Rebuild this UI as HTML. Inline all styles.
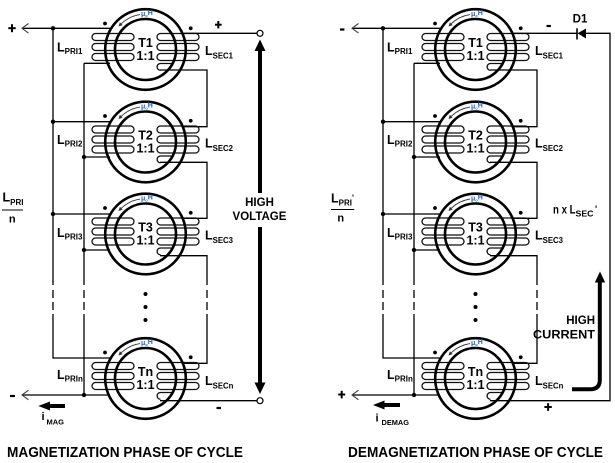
<!DOCTYPE html>
<html><head><meta charset="utf-8">
<style>
html,body{margin:0;padding:0;background:#fff;}
svg{display:block;}
text{font-family:"Liberation Sans",Arial,sans-serif;font-weight:bold;fill:#000;}
</style></head>
<body>
<svg width="615" height="463" viewBox="0 0 615 463" xmlns="http://www.w3.org/2000/svg">
<defs>
<g id="tx">
  <g fill="none" stroke="#111" stroke-width="1.3">
    <rect x="-53.5" y="-16" width="42" height="7" rx="3.5"/>
    <rect x="-53.5" y="-6" width="42" height="7" rx="3.5"/>
    <rect x="-53.5" y="4" width="42" height="7" rx="3.5"/>
    <rect x="11.5" y="-16" width="42" height="7" rx="3.5"/>
    <rect x="11.5" y="-6" width="42" height="7" rx="3.5"/>
    <rect x="11.5" y="4" width="42" height="7" rx="3.5"/>
    <path d="M28 14H15A3.4 3.4 0 0 0 15 20.8"/>
  </g>
  <circle r="40.3" fill="none" stroke="#000" stroke-width="2.6"/>
  <circle r="30.5" fill="none" stroke="#000" stroke-width="2.6"/>
  <circle cx="-40.5" cy="-26" r="1.9" fill="#000"/>
  <circle cx="45.2" cy="-21.2" r="1.9" fill="#000"/>
  <path d="M-5.5 -34.9A35.3 35.3 0 0 0 -24.2 -25.8" fill="none" stroke="#333" stroke-width="0.9"/>
  <polygon points="-27,-23 -22.8,-24.4 -25.6,-27.2" fill="#333"/>
</g>
<g id="common">
  <g fill="none" stroke="#000" stroke-width="1.3">
    <path d="M22 28.3H112 M53 28.3V285 M53 322V358H111 M53 121.7H111 M53 214H111 M22 395H110 M84 63.3H110 M84 63.3V285 M84 322V395 M84 157H110 M84 250H110 M160 70H207V126.7H183 M160 162.3H207V218.3H183 M160 255.7H207V285 M207 322V363.3H183"/>
    <path d="M53 290V322 M84 290V322 M207 290V322" stroke-dasharray="8 4"/>
  </g>
  <g fill="none" stroke="#444" stroke-width="1.1">
    <path d="M28.5 23.5L22 28.3L28.5 33.1"/>
    <path d="M28.5 390.2L22 395L28.5 399.8"/>
  </g>
  <use href="#tx" x="145.5" y="49.5"/>
  <use href="#tx" x="145.5" y="142"/>
  <use href="#tx" x="145.5" y="234"/>
  <use href="#tx" x="145.5" y="378.5"/>
  <g fill="#000">
    <circle cx="53" cy="28.3" r="2.2"/>
    <circle cx="53" cy="121.7" r="2.2"/>
    <circle cx="53" cy="214" r="2.2"/>
    <circle cx="84" cy="157" r="2.2"/>
    <circle cx="84" cy="250" r="2.2"/>
    <circle cx="84" cy="395" r="2.2"/>
    <circle cx="145.5" cy="294" r="2"/>
    <circle cx="145.5" cy="307" r="2"/>
    <circle cx="145.5" cy="320" r="2"/>
  </g>
</g>
</defs>

<use href="#common"/>
<use href="#common" x="330"/>

<!-- LEFT specifics -->
<g fill="none" stroke="#000" stroke-width="1.3">
  <path d="M183 33.3H257 M160 400.7H257"/>
</g>
<circle cx="260" cy="33.3" r="3" fill="#fff" stroke="#000" stroke-width="1.2"/>
<circle cx="260" cy="400.7" r="3" fill="#fff" stroke="#000" stroke-width="1.2"/>
<path d="M260 50V193 M260 227V383" stroke="#000" stroke-width="4"/>
<polygon points="260,39.5 254.5,51 265.5,51" fill="#000"/>
<polygon points="260,394 254.5,382.5 265.5,382.5" fill="#000"/>
<g fill="#000">
  <rect x="8.3" y="27.2" width="7.4" height="2"/><rect x="11" y="24.2" width="2" height="8"/>
  <rect x="10" y="394.9" width="5" height="2.2"/>
  <rect x="215" y="23.7" width="6.7" height="2"/><rect x="217.3" y="21" width="2" height="7.4"/>
  <rect x="216.5" y="406.9" width="4.5" height="2.2"/>
</g>
<polygon points="38.3,406 50,401.5 50,410.5" fill="#000"/>
<rect x="49" y="404" width="16" height="4" fill="#000"/>

<!-- RIGHT specifics -->
<g fill="none" stroke="#000" stroke-width="1.3">
  <path d="M513 33.3H577 M586 33.3H610V400.7H490"/>
  <path d="M577 28.3V39.5" stroke-width="1.6"/>
</g>
<polygon points="577.5,33.3 586,28.5 586,38.5" fill="#000"/>
<path d="M572 389.3H590Q599.8 389.3 599.8 380V281" fill="none" stroke="#000" stroke-width="4"/>
<polygon points="600,271.5 594.8,282.5 605.2,282.5" fill="#000"/>
<g fill="#000">
  <rect x="340" y="28.4" width="4.4" height="2.2"/>
  <rect x="338.2" y="393.5" width="7" height="2"/><rect x="340.7" y="390.8" width="2" height="7.6"/>
  <rect x="546.5" y="24.9" width="4.4" height="2.2"/>
  <rect x="544.4" y="406" width="7.4" height="2"/><rect x="547.1" y="403.2" width="2" height="7.6"/>
</g>
<polygon points="373,405 384.5,400.5 384.5,409.5" fill="#000"/>
<rect x="383.5" y="403" width="16.5" height="4" fill="#000"/>

<!-- transformer texts -->
<g font-size="12.5" text-anchor="middle">
  <text x="145.5" y="47">T1</text><text x="145.5" y="60">1:1</text>
  <text x="145.5" y="139.5">T2</text><text x="145.5" y="152.5">1:1</text>
  <text x="145.5" y="231.5">T3</text><text x="145.5" y="244.5">1:1</text>
  <text x="145.5" y="376">Tn</text><text x="145.5" y="389">1:1</text>
  <text x="475.5" y="47">T1</text><text x="475.5" y="60">1:1</text>
  <text x="475.5" y="139.5">T2</text><text x="475.5" y="152.5">1:1</text>
  <text x="475.5" y="231.5">T3</text><text x="475.5" y="244.5">1:1</text>
  <text x="475.5" y="376">Tn</text><text x="475.5" y="389">1:1</text>
</g>
<g font-size="7">
  <text x="141" y="16" style="fill:#1f63c6">μ<tspan font-size="4" dy="1" style="fill:#1f63c6">o</tspan><tspan dy="-2" style="fill:#1f63c6">H</tspan></text>
  <text x="141" y="108.5" style="fill:#1f63c6">μ<tspan font-size="4" dy="1" style="fill:#1f63c6">o</tspan><tspan dy="-2" style="fill:#1f63c6">H</tspan></text>
  <text x="141" y="200.5" style="fill:#1f63c6">μ<tspan font-size="4" dy="1" style="fill:#1f63c6">o</tspan><tspan dy="-2" style="fill:#1f63c6">H</tspan></text>
  <text x="141" y="345" style="fill:#1f63c6">μ<tspan font-size="4" dy="1" style="fill:#1f63c6">o</tspan><tspan dy="-2" style="fill:#1f63c6">H</tspan></text>
  <text x="471" y="16" style="fill:#1f63c6">μ<tspan font-size="4" dy="1" style="fill:#1f63c6">o</tspan><tspan dy="-2" style="fill:#1f63c6">H</tspan></text>
  <text x="471" y="108.5" style="fill:#1f63c6">μ<tspan font-size="4" dy="1" style="fill:#1f63c6">o</tspan><tspan dy="-2" style="fill:#1f63c6">H</tspan></text>
  <text x="471" y="200.5" style="fill:#1f63c6">μ<tspan font-size="4" dy="1" style="fill:#1f63c6">o</tspan><tspan dy="-2" style="fill:#1f63c6">H</tspan></text>
  <text x="471" y="345" style="fill:#1f63c6">μ<tspan font-size="4" dy="1" style="fill:#1f63c6">o</tspan><tspan dy="-2" style="fill:#1f63c6">H</tspan></text>
</g>

<!-- coil labels -->
<g font-size="12.5">
  <text x="57" y="51.7">L<tspan dy="2.5" font-size="8">PRI1</tspan></text>
  <text x="57" y="144.2">L<tspan dy="2.5" font-size="8">PRI2</tspan></text>
  <text x="57" y="236.8">L<tspan dy="2.5" font-size="8">PRI3</tspan></text>
  <text x="57" y="379">L<tspan dy="2.5" font-size="8">PRIn</tspan></text>
  <text x="205" y="55">L<tspan dy="3.3" font-size="7.8">SEC1</tspan></text>
  <text x="205" y="147.5">L<tspan dy="3.3" font-size="7.8">SEC2</tspan></text>
  <text x="205" y="239.5">L<tspan dy="3.3" font-size="7.8">SEC3</tspan></text>
  <text x="205" y="385">L<tspan dy="3.3" font-size="7.8">SECn</tspan></text>
  <text x="387" y="51.7">L<tspan dy="2.5" font-size="8">PRI1</tspan></text>
  <text x="387" y="144.2">L<tspan dy="2.5" font-size="8">PRI2</tspan></text>
  <text x="387" y="236.8">L<tspan dy="2.5" font-size="8">PRI3</tspan></text>
  <text x="387" y="379">L<tspan dy="2.5" font-size="8">PRIn</tspan></text>
  <text x="535" y="55">L<tspan dy="3.3" font-size="7.8">SEC1</tspan></text>
  <text x="535" y="147.5">L<tspan dy="3.3" font-size="7.8">SEC2</tspan></text>
  <text x="535" y="239.5">L<tspan dy="3.3" font-size="7.8">SEC3</tspan></text>
  <text x="535" y="385">L<tspan dy="3.3" font-size="7.8">SECn</tspan></text>
</g>

<!-- fraction labels -->
<text x="2.5" y="201.7" font-size="12.5">L<tspan dy="3.3" font-size="8">PRI</tspan></text>
<path d="M2 210H23" stroke="#000" stroke-width="1.1"/>
<text x="12.2" y="222.5" font-size="11" text-anchor="middle">n</text>
<text x="331" y="202.3" font-size="12.5">L<tspan dy="3.4" font-size="8">PRI</tspan><tspan dy="-5" font-size="8">'</tspan></text>
<path d="M331 209.5H354.3" stroke="#000" stroke-width="1.1"/>
<text x="340.8" y="221.7" font-size="11" text-anchor="middle">n</text>

<!-- other labels -->
<g font-size="11.5" text-anchor="middle">
  <text x="259.5" y="206">HIGH</text>
  <text x="259.5" y="220">VOLTAGE</text>
  <text x="580" y="22.7">D1</text>
</g>
<text x="595" y="324" font-size="11.5" text-anchor="end">HIGH</text>
<text x="533" y="338.3" font-size="11.5" textLength="62" lengthAdjust="spacingAndGlyphs">CURRENT</text>
<text x="553" y="213.3" font-size="12" textLength="22.5" lengthAdjust="spacingAndGlyphs">n x L</text>
<text x="575.5" y="216.7" font-size="8.2" textLength="18" lengthAdjust="spacingAndGlyphs">SEC</text>
<text x="595" y="212" font-size="9">'</text>

<text x="41.5" y="420" font-size="11">i</text>
<text x="46.5" y="424.5" font-size="7.5" textLength="17.5" lengthAdjust="spacingAndGlyphs">MAG</text>
<text x="375.5" y="421.5" font-size="11">i</text>
<text x="381.5" y="425" font-size="7.5" textLength="27.5" lengthAdjust="spacingAndGlyphs">DEMAG</text>

<text x="7" y="457" font-size="14.5" textLength="236" lengthAdjust="spacingAndGlyphs">MAGNETIZATION PHASE OF CYCLE</text>
<text x="348" y="457" font-size="14.5" textLength="255" lengthAdjust="spacingAndGlyphs">DEMAGNETIZATION PHASE OF CYCLE</text>
</svg>
</body></html>
